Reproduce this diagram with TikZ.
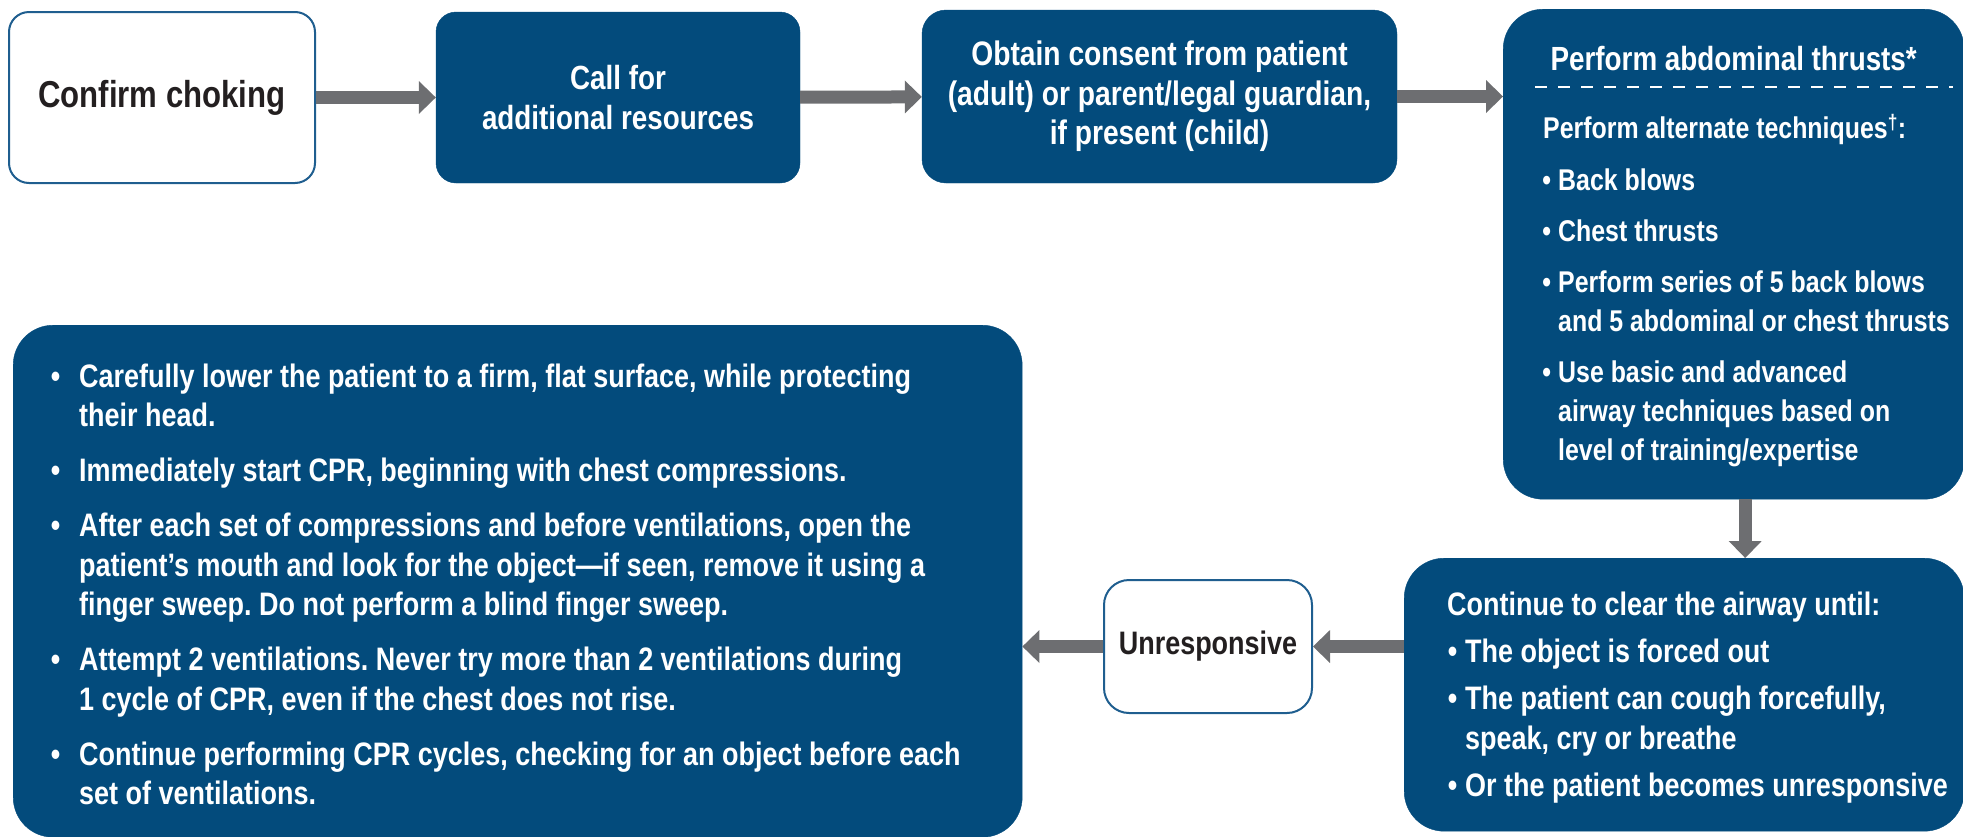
\documentclass[tikz,border=0pt]{standalone}
\usepackage{fontspec}
\setmainfont[FakeStretch=0.83]{Liberation Sans}
\usetikzlibrary{arrows.meta}
\frenchspacing
\definecolor{boxblue}{HTML}{034B7C}
\definecolor{edgeblue}{HTML}{1F5E8F}
\definecolor{arrowgrey}{HTML}{6D6E71}
\definecolor{darkink}{HTML}{231F20}
\tikzset{bluebox/.style={fill=boxblue, draw=boxblue, text=white, rounded corners=#1, inner sep=0pt}}
\tikzset{bluebox/.default=20pt}
\tikzset{whitebox/.style={fill=white, draw=edgeblue, line width=2pt, text=darkink, rounded corners=#1, inner sep=0pt}}
\tikzset{whitebox/.default=20pt}
\tikzset{flow/.style={draw=arrowgrey, line width=13pt, -{Triangle[length=17pt, width=33pt, line width=0pt]}}}
\tikzset{dashrule/.style={draw=white, line width=2pt, dash pattern=on 12pt off 11pt}}
\newcommand{\bfsize}[2]{\bfseries\fontsize{#1}{#2}\selectfont}
\newcommand{\dotitem}[1]{\leavevmode\llap{\textbullet\hspace{#1}}}

\begin{document}
\begin{tikzpicture}[x=1pt, y=-1pt]
\useasboundingbox (0,0) rectangle (1963,836);
\node[whitebox, align=center, minimum width=306pt, minimum height=171pt, font=\bfsize{37.5}{44}] (choking) at (162,97.5) {Confirm choking};
\node[bluebox, align=center, minimum width=364pt, minimum height=171pt, font=\bfsize{33.5}{40}] (help) at (618,97.5) {Call for\\additional resources};
\node[bluebox=24pt, align=center, minimum width=475pt, minimum height=173pt, font=\bfsize{34}{39.5}] (consent) at (1159.5,96.5) {Obtain consent from patient\\(adult) or parent/legal guardian,\\if present (child)};
\node[bluebox=40pt, anchor=north west, font=\bfsize{30}{39}] (thrusts) at (1503,9) {\parbox[c][490pt][t]{461pt}{%
  {\centering\bfsize{33.5}{40}\leavevmode\rule{0pt}{61pt}Perform abdominal thrusts*\par}
  \vspace{29pt}
  \raggedright\leftskip=55pt\rightskip=-60pt plus 1fil
  \leavevmode\hspace*{-15pt}Perform alternate techniques\textsuperscript{\textdagger}:\\[13pt]
  \dotitem{7pt}Back blows\\[12pt]
  \dotitem{7pt}Chest thrusts\\[12pt]
  \dotitem{7pt}Perform series of 5 back blows\\
  and 5 abdominal or chest thrusts\\[12pt]
  \dotitem{7pt}Use basic and advanced\\
  airway techniques based on\\
  level of training/expertise}};
\draw[dashrule] ([xshift=32pt, yshift=-78pt]thrusts.north west) -- ([xshift=-11pt, yshift=-78pt]thrusts.north east);
\node[bluebox=40pt, anchor=north west, font=\bfsize{32.5}{40}] (clear) at (1404,558) {\parbox[c][273pt][t]{560pt}{%
  \raggedright\leftskip=61pt\rightskip=-60pt plus 1fil
  \leavevmode\hspace*{-18pt}\rule{0pt}{57pt}Continue to clear the airway until:\\[7pt]
  \dotitem{8pt}The object is forced out\\[7pt]
  \dotitem{8pt}The patient can cough forcefully,\\
  speak, cry or breathe\\[7pt]
  \dotitem{8pt}Or the patient becomes unresponsive}};
\node[whitebox=25pt, align=center, minimum width=208pt, minimum height=133pt, font=\bfsize{32.5}{39}] (unresp) at (1208,646.5) {Unresponsive};
\node[bluebox=40pt, anchor=north west, font=\bfsize{32.5}{39.5}] (cpr) at (13,325) {\parbox[c][512pt][t]{1009pt}{%
  \raggedright\leftskip=66pt\rightskip=-60pt plus 1fil
  \dotitem{19pt}\rule{0pt}{62pt}Carefully lower the patient to a firm, flat surface, while protecting\\
  their head.\\[15.5pt]
  \dotitem{19pt}Immediately start CPR, beginning with chest compressions.\\[15.5pt]
  \dotitem{19pt}After each set of compressions and before ventilations, open the\\
  patient’s mouth and look for the object---if seen, remove it using a\\
  finger sweep. Do not perform a blind finger sweep.\\[15.5pt]
  \dotitem{19pt}Attempt 2 ventilations. Never try more than 2 ventilations during\\
  1 cycle of CPR, even if the chest does not rise.\\[15.5pt]
  \dotitem{19pt}Continue performing CPR cycles, checking for an object before each\\
  set of ventilations.}};
\draw[flow] (choking) -- (help);
\draw[flow] (help) -- (consent);
\draw[flow] (consent) -- (consent -| thrusts.west);
\draw[flow] ([xshift=11.5pt]thrusts.south) -- ([xshift=11.5pt]thrusts.south |- clear.north);
\draw[flow] (clear.west |- unresp) -- (unresp);
\draw[flow] (unresp) -- (unresp -| cpr.east);
\end{tikzpicture}
\end{document}
